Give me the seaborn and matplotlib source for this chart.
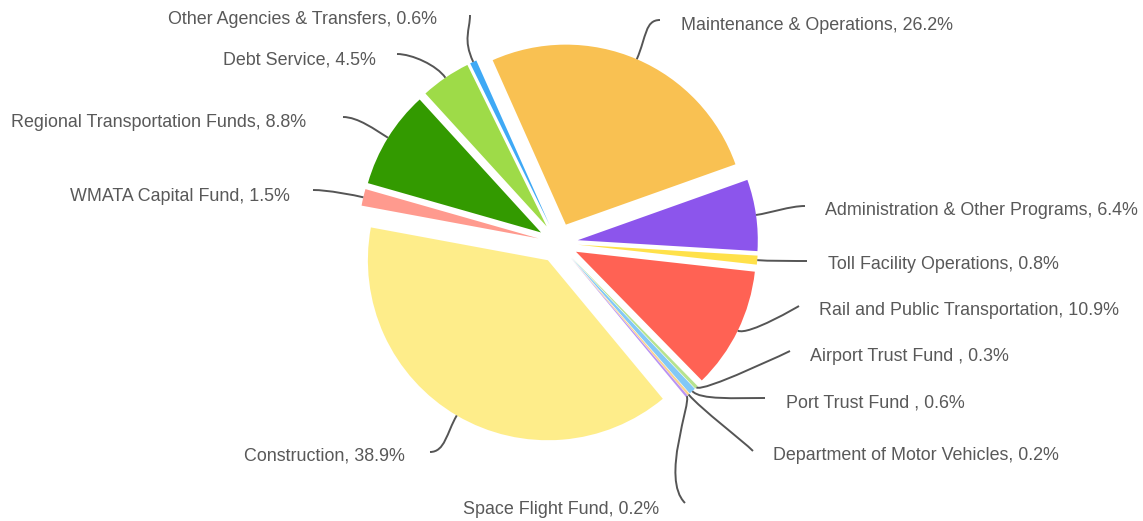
import numpy as np
import seaborn as sns
import matplotlib.pyplot as plt
from matplotlib.path import Path
from matplotlib.patches import PathPatch

# Budget shares, clockwise from the top of the pie
categories = [
    "Maintenance & Operations", "Administration & Other Programs",
    "Toll Facility Operations", "Rail and Public Transportation",
    "Airport Trust Fund ", "Port Trust Fund ", "Department of Motor Vehicles",
    "Space Flight Fund", "Construction", "WMATA Capital Fund",
    "Regional Transportation Funds", "Debt Service", "Other Agencies & Transfers",
]
shares = [26.2, 6.4, 0.8, 10.9, 0.3, 0.6, 0.2, 0.2, 38.9, 1.5, 8.8, 4.5, 0.6]
colors = [
    "#f9c152", "#8c55ec", "#ffe14a", "#ff6254", "#b7e38f", "#82c8f6", "#fcd38c",
    "#b992f2", "#feed8a", "#ff9a8e", "#339a00", "#9edb48", "#3fa9f5",
]

sns.set_theme(style="white")
plt.rcParams["font.family"] = ["Liberation Sans", "DejaVu Sans"]

W, H = 1143, 521
CX, CY, R = 558, 243, 180  # pie centre / radius in pixels


def to_data(px, py):
    return ((px - CX) / R, (CY - py) / R)


fig = plt.figure(figsize=(W / 100, H / 100), dpi=100)
ax = fig.add_axes([0, 0, 1, 1])

wedges, _ = ax.pie(shares, colors=colors, startangle=114, counterclock=False,
                   explode=[0.111] * len(shares), radius=1,
                   wedgeprops=dict(linewidth=0))

ax.set_xlim(to_data(0, 0)[0], to_data(W, 0)[0])
ax.set_ylim(to_data(0, H)[1], to_data(0, 0)[1])
ax.set_aspect("equal")
ax.axis("off")

# label layout in pixels: text x, text y, alignment, line end x, line end y,
# radial length, end tangent length, end tangent direction
layout = [
    (681, 25, "left", 660, 20, 25, 15, (1, 0)),
    (825, 210, "left", 805, 206, 15, 15, (1, 0)),
    (828, 264, "left", 807, 261, 10, 10, (1, 0)),
    (819, 310, "left", 799, 306, 12, 0, (1, 0)),
    (810, 356, "left", 790, 351, 8, 0, (1, 0)),
    (786, 403, "left", 765, 398, 12, 30, (1, 0)),
    (773, 455, "left", 753, 451, 20, 15, (1, 1)),
    (561, 510, "center", 685, 503, 8, 35, (1, 1)),
    (405, 456, "right", 430, 452, 20, 15, (-1, 0)),
    (290, 196, "right", 313, 190, 10, 15, (-1, 0)),
    (306, 122, "right", 343, 117, 15, 15, (-1, 0)),
    (376, 60, "right", 397, 54, 15, 15, (-1, 0)),
    (437, 19, "right", 470, 15, 25, 15, (0, -1)),
]

text_color = "#595959"
line_color = "#555555"

for w, name, val, lay in zip(wedges, categories, shares, layout):
    tx, ty, ha, ex, ey, a, b, tang = lay
    mid = np.deg2rad((w.theta1 + w.theta2) / 2)
    d = np.array([np.cos(mid), np.sin(mid)])
    p0 = np.array(w.center) + w.r * d
    p1 = p0 + d * a / R
    t = np.array(tang, dtype=float)
    t = t / np.linalg.norm(t)
    p3 = np.array(to_data(ex, ey))
    p2 = p3 - np.array([t[0], -t[1]]) * b / R
    path = Path([p0, p1, p2, p3],
                [Path.MOVETO, Path.CURVE4, Path.CURVE4, Path.CURVE4])
    ax.add_patch(PathPatch(path, fill=False, edgecolor=line_color, lw=1.4))
    ax.text(*to_data(tx, ty), f"{name}, {val}%", ha=ha, va="center",
            fontsize=12.9, color=text_color)

plt.savefig("out.png", dpi=100)
